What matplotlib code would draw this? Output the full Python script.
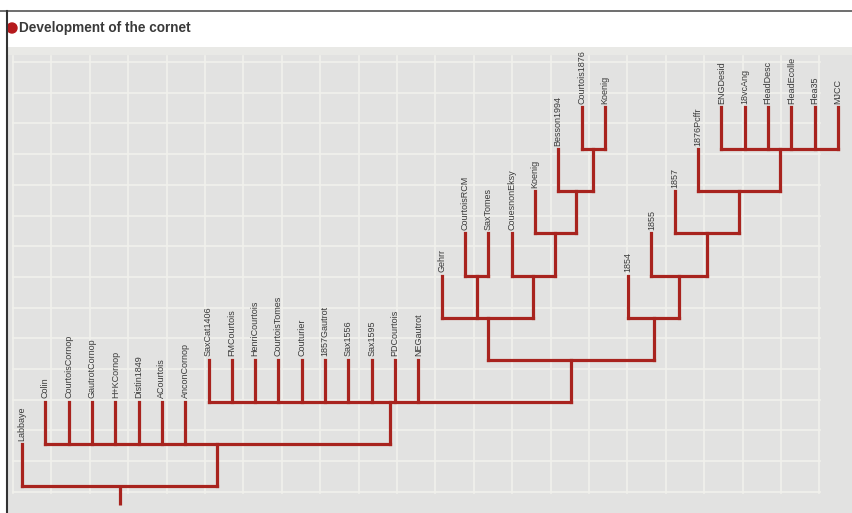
import matplotlib
matplotlib.use("Agg")
import matplotlib.pyplot as plt
from matplotlib.patches import Rectangle, Circle

# ---------------- data ----------------
title = "Development of the cornet"
root_leaf = ["Labbaye"]
group_a = ["Colin", "CourtoisCornop", "GautrotCornop", "H+KCornop", "Distin1849",
           "ACourtois", "AnconCornop"]
group_b = ["SaxCat1406", "FMCourtois", "HenriCourtois", "CourtoisTomes", "Couturier",
           "1857Gautrot", "Sax1556", "Sax1595", "PDCourtois", "NEGautrot"]
pair_rcm = ["CourtoisRCM", "SaxTomes"]
chain_left = ["CouesnonEksy", "Koenig", "Besson1994"]
pair_top = ["Courtois1876", "Koenig"]
chain_right = ["1854", "1855", "1857", "1876Pcffr"]
group_top = ["ENGDesid", "18vcAng", "FleadDesc", "FleadEcolle", "Flea35", "MJCC"]


def chain(names, tail):
    node = tail
    for n in reversed(names):
        node = [n, node]
    return node


left_clade = ["Gehrr", list(pair_rcm), chain(chain_left, list(pair_top))]
right_clade = chain(chain_right, list(group_top))
tree = root_leaf + [group_a + [group_b + [[left_clade, right_clade]]]]

# ---------------- style ----------------
W, H = 853, 513
LINE = "#a8231e"
TXT = "#3a3a3a"
PANEL = "#e2e2e1"
GRIDC = "#f1f1ec"
label_fam = ["Liberation Sans", "DejaVu Sans"]

fig = plt.figure(figsize=(W / 100, H / 100), dpi=100)
fig.patch.set_facecolor("white")

# background / decoration axes in pixel units
bg = fig.add_axes([0, 0, 1, 1])
bg.set_xlim(0, W)
bg.set_ylim(H, 0)
bg.axis("off")
bg.add_patch(Rectangle((7, 47), W - 7, H - 47, facecolor=PANEL, edgecolor="none"))
bg.add_patch(Rectangle((7, 47), W - 7, 8, facecolor="#e9e9e6", edgecolor="none"))
for k in range(22):
    gx = 13 + 38.4 * k
    bg.plot([gx, gx], [56, 493], color=GRIDC, lw=1.2, zorder=1)
    if k < 21:
        for off in (6, 32):
            bg.plot([gx + off, gx + off], [56, 493], color="#e7e7e3", lw=0.6, zorder=0.9)
for k in range(15):
    gy = 62 + 30.7 * k
    bg.plot([13, 820], [gy, gy], color=GRIDC, lw=1.2, zorder=1)
bg.plot([0, W], [11, 11], color="#555555", lw=1.2)
bg.plot([7, 7], [11, H], color="#333333", lw=1.5)
bg.add_patch(Circle((12, 28), 5, color="#b5191c"))
bg.text(19, 28, title, fontsize=9.8, fontweight="bold", color=TXT,
        family=["Liberation Sans", "DejaVu Sans"], ha="left", va="center")

# tree axes: x = leaf index, y = depth
ax = fig.add_axes([7 / W, 0, (W - 7) / W, (H - 47) / H])
ax.patch.set_alpha(0)
ax.set_xlim((7 - 22) / 23.314, (W - 22) / 23.314)
ax.set_ylim((486 - H) / 42.1, (486 - 47) / 42.1)
ax.axis("off")

counter = [0]


def layout(node, depth):
    """returns x of node; draws its links"""
    if isinstance(node, str):
        x = counter[0]
        counter[0] += 1
        ax.text(x, depth + 0.08, node, rotation=90, ha="center", va="bottom",
                fontsize=6.5, color=TXT, family=label_fam)
        return x
    xs = [layout(ch, depth + 1) for ch in node]
    x = (xs[0] + xs[-1]) / 2
    ax.plot([xs[0], xs[-1]], [depth, depth], color=LINE, lw=2.3,
            solid_capstyle="projecting", zorder=3)
    for cx in xs:
        ax.plot([cx, cx], [depth, depth + 1], color=LINE, lw=2.3,
                solid_capstyle="projecting", zorder=3)
    return x


rx = layout(tree, 0)
ax.plot([rx, rx], [0, -0.45], color=LINE, lw=2.3, solid_capstyle="butt", zorder=3)

fig.savefig("out.png", dpi=100)
